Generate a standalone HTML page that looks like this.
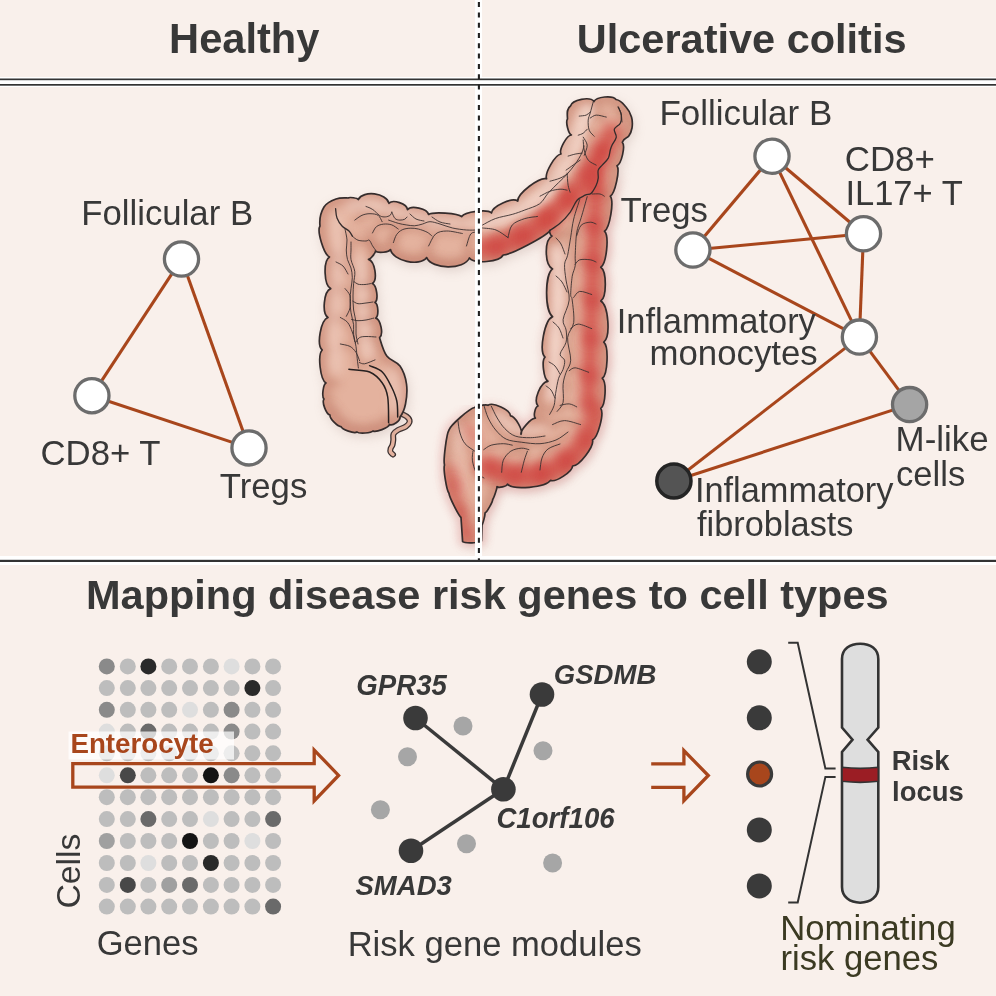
<!DOCTYPE html>
<html><head><meta charset="utf-8"><style>
html,body{margin:0;padding:0;background:#f9f0eb;}
svg{display:block;will-change:transform;}
text{font-family:"Liberation Sans",sans-serif;}
</style></head><body>
<svg width="996" height="996" viewBox="0 0 996 996">
<rect width="996" height="996" fill="#f9f0eb"/>
<rect x="0" y="77" width="996" height="10" fill="#fff"/>
<rect x="0" y="556" width="996" height="9" fill="#fff"/>
<text x="169.08" y="52.6" font-size="41.64" font-weight="bold" font-style="normal" fill="#383838" text-anchor="start" >Healthy</text>
<text x="576.81" y="52.6" font-size="41.49" font-weight="bold" font-style="normal" fill="#383838" text-anchor="start" >Ulcerative colitis</text>
<text x="85.99" y="608.8" font-size="41.5" font-weight="bold" font-style="normal" fill="#383838" text-anchor="start" >Mapping disease risk genes to cell types</text>

<defs>
 <clipPath id="cc"><path d="M400.0,417.0 C400.7,420.6 392.7,426.3 389.5,424.5 C388.5,427.8 376.0,432.7 373.0,431.0 C371.2,433.1 359.0,433.9 357.0,432.0 C354.2,433.9 342.1,429.7 341.0,426.5 C337.8,427.0 329.4,418.2 330.0,415.0 C326.2,414.3 321.6,402.1 324.0,399.0 C321.6,396.7 323.1,384.6 326.0,383.0 C320.2,379.7 317.4,354.6 322.2,350.0 C316.3,344.9 320.7,320.2 328.0,317.5 C321.7,313.4 323.7,291.4 330.7,288.6 C323.9,285.1 323.0,261.0 329.5,257.0 C323.9,254.6 316.7,231.1 320.0,226.0 C319.1,217.7 321.3,211.5 324.0,207.0 C326.7,202.5 332.0,200.5 336.0,199.0 C340.0,197.5 344.3,197.9 348.0,198.0 C349.4,196.9 357.3,198.0 358.3,199.5 C363.2,190.0 386.5,192.9 389.0,203.3 C392.9,199.0 407.0,203.8 407.5,209.6 C411.2,205.0 427.3,208.7 428.6,214.5 C432.8,211.4 457.9,213.0 461.7,216.6 C464.7,211.7 487.4,208.9 491.5,213.0 C492.2,206.1 512.2,197.0 517.8,201.0 C517.5,193.5 539.4,176.6 546.6,178.8 C544.3,173.5 555.2,154.6 561.0,154.0 C558.7,149.8 566.6,135.4 571.4,135.0 C568.3,133.7 565.4,121.6 567.5,119.0 C567.4,114.2 566.1,108.9 570.5,106.0 C572.2,99.6 590.1,96.1 594.0,101.5 C596.2,96.6 612.9,95.1 616.0,99.5 C621.3,100.4 623.4,104.1 626.0,107.0 C628.6,109.9 630.5,113.5 631.5,117.0 C632.5,120.5 632.5,124.8 632.0,128.0 C631.5,131.2 630.4,133.6 628.8,136.0 C627.2,138.4 624.3,137.2 622.3,142.2 C625.6,145.9 621.5,163.8 617.0,165.7 C620.1,170.2 615.0,193.4 610.3,196.2 C614.2,201.2 609.8,227.8 604.5,231.2 C609.4,236.1 606.5,263.5 600.8,267.3 C606.8,271.3 606.8,297.0 600.8,301.0 C608.5,305.4 610.8,336.7 603.8,342.2 C608.9,346.8 607.8,374.2 602.3,378.3 C606.8,382.1 605.6,405.0 600.8,408.4 C604.3,413.4 598.0,437.4 592.5,440.0 C594.3,446.4 579.2,466.1 572.6,466.0 C572.5,471.6 555.7,482.6 550.5,480.4 C545.9,487.5 513.2,490.4 507.5,484.2 C506.7,486.4 498.7,488.3 497.0,486.6 C497.1,488.3 493.8,498.1 492.7,499.4 C492.9,501.7 487.1,512.0 485.0,513.0 C485.3,514.6 483.0,523.7 482.0,525.0 C481.9,526.9 481.6,539.1 481.5,541.0 C479.3,543.1 464.9,543.5 462.6,541.6 C462.4,538.7 461.2,520.4 461.0,517.5 C458.4,515.2 449.2,496.9 449.0,493.4 C446.5,490.3 443.1,468.7 444.5,465.0 C443.1,460.5 446.5,433.9 449.0,430.0 C450.3,425.3 469.8,408.2 474.6,407.5 C476.0,405.9 486.2,404.2 488.0,405.3 C493.0,401.7 510.1,409.7 510.5,415.8 C515.2,416.0 523.2,430.1 521.0,434.3 C520.2,430.1 531.2,417.9 535.4,418.2 C533.1,416.2 535.1,406.9 538.0,406.0 C533.0,400.5 540.6,381.8 548.0,381.3 C543.7,378.9 541.4,360.6 545.0,357.2 C538.7,351.0 544.5,320.1 552.6,316.6 C544.6,310.9 544.6,274.6 552.6,268.9 C544.5,265.1 544.1,240.1 552.0,236.0 C550.5,235.8 549.0,231.5 550.0,230.4 C545.9,236.3 510.4,255.0 503.2,255.0 C499.7,262.0 474.0,264.3 469.4,258.0 C464.2,270.0 431.7,269.6 426.7,257.6 C420.0,267.0 392.5,260.9 390.5,249.5 C389.0,252.3 377.6,253.5 375.5,251.0 C375.7,252.9 370.4,259.2 368.5,259.4 C374.9,261.3 377.9,279.6 372.4,283.5 C376.7,285.2 378.7,299.6 375.0,302.4 C378.4,304.1 378.9,316.1 375.7,318.1 C380.7,319.5 383.7,334.4 379.6,337.7 C381.5,344.0 383.4,351.3 386.8,356.0 C390.2,360.7 396.7,361.3 400.0,366.0 C403.3,370.7 405.6,377.7 406.5,384.0 C407.4,390.3 406.6,398.5 405.5,404.0 C404.4,409.5 402.7,413.6 400.0,417.0Z"/></clipPath>
 <filter id="b12" filterUnits="userSpaceOnUse" x="0" y="0" width="996" height="996"><feGaussianBlur stdDeviation="12"/></filter>
 <mask id="glowm" maskUnits="userSpaceOnUse" x="0" y="0" width="996" height="996"><g filter="url(#b12)"><rect x="545" y="185" width="110" height="380" fill="#fff"/><rect x="425" y="410" width="130" height="150" fill="#fff"/></g><rect x="0" y="0" width="478" height="405" fill="#000"/></mask>
 <clipPath id="ucx"><rect x="478" y="0" width="520" height="560"/><rect x="430" y="398" width="60" height="160"/></clipPath>
 <filter id="b2" filterUnits="userSpaceOnUse" x="0" y="0" width="996" height="996"><feGaussianBlur stdDeviation="2"/></filter>
 <filter id="b3" filterUnits="userSpaceOnUse" x="0" y="0" width="996" height="996"><feGaussianBlur stdDeviation="3"/></filter>
 <filter id="b4" filterUnits="userSpaceOnUse" x="0" y="0" width="996" height="996"><feGaussianBlur stdDeviation="4"/></filter>
 <filter id="b6" filterUnits="userSpaceOnUse" x="0" y="0" width="996" height="996"><feGaussianBlur stdDeviation="6"/></filter>
 <filter id="b8" filterUnits="userSpaceOnUse" x="0" y="0" width="996" height="996"><feGaussianBlur stdDeviation="8"/></filter>
</defs>
<path d="M399.0,414.0 C399.7,414.1 401.4,413.8 403.0,414.5 C404.6,415.2 407.2,416.7 408.3,418.0 C409.4,419.3 409.9,420.9 409.5,422.3 C409.1,423.7 407.8,425.2 405.9,426.5 C404.0,427.8 400.1,428.8 398.0,430.0 C395.9,431.2 394.3,432.3 393.5,434.0 C392.7,435.7 393.5,438.2 393.3,440.0 C393.1,441.8 392.9,443.6 392.5,445.0 C392.1,446.4 390.9,447.3 390.6,448.5 C390.3,449.7 390.1,451.0 390.5,452.0 C390.9,453.0 392.6,454.1 393.0,454.5" fill="none" stroke="#3a3030" stroke-width="6" stroke-linecap="round"/>
<path d="M399.0,414.0 C399.7,414.1 401.4,413.8 403.0,414.5 C404.6,415.2 407.2,416.7 408.3,418.0 C409.4,419.3 409.9,420.9 409.5,422.3 C409.1,423.7 407.8,425.2 405.9,426.5 C404.0,427.8 400.1,428.8 398.0,430.0 C395.9,431.2 394.3,432.3 393.5,434.0 C392.7,435.7 393.5,438.2 393.3,440.0 C393.1,441.8 392.9,443.6 392.5,445.0 C392.1,446.4 390.9,447.3 390.6,448.5 C390.3,449.7 390.1,451.0 390.5,452.0 C390.9,453.0 392.6,454.1 393.0,454.5" fill="none" stroke="#e4b29e" stroke-width="3.4" stroke-linecap="round"/>
<path d="M400.0,417.0 C400.7,420.6 392.7,426.3 389.5,424.5 C388.5,427.8 376.0,432.7 373.0,431.0 C371.2,433.1 359.0,433.9 357.0,432.0 C354.2,433.9 342.1,429.7 341.0,426.5 C337.8,427.0 329.4,418.2 330.0,415.0 C326.2,414.3 321.6,402.1 324.0,399.0 C321.6,396.7 323.1,384.6 326.0,383.0 C320.2,379.7 317.4,354.6 322.2,350.0 C316.3,344.9 320.7,320.2 328.0,317.5 C321.7,313.4 323.7,291.4 330.7,288.6 C323.9,285.1 323.0,261.0 329.5,257.0 C323.9,254.6 316.7,231.1 320.0,226.0 C319.1,217.7 321.3,211.5 324.0,207.0 C326.7,202.5 332.0,200.5 336.0,199.0 C340.0,197.5 344.3,197.9 348.0,198.0 C349.4,196.9 357.3,198.0 358.3,199.5 C363.2,190.0 386.5,192.9 389.0,203.3 C392.9,199.0 407.0,203.8 407.5,209.6 C411.2,205.0 427.3,208.7 428.6,214.5 C432.8,211.4 457.9,213.0 461.7,216.6 C464.7,211.7 487.4,208.9 491.5,213.0 C492.2,206.1 512.2,197.0 517.8,201.0 C517.5,193.5 539.4,176.6 546.6,178.8 C544.3,173.5 555.2,154.6 561.0,154.0 C558.7,149.8 566.6,135.4 571.4,135.0 C568.3,133.7 565.4,121.6 567.5,119.0 C567.4,114.2 566.1,108.9 570.5,106.0 C572.2,99.6 590.1,96.1 594.0,101.5 C596.2,96.6 612.9,95.1 616.0,99.5 C621.3,100.4 623.4,104.1 626.0,107.0 C628.6,109.9 630.5,113.5 631.5,117.0 C632.5,120.5 632.5,124.8 632.0,128.0 C631.5,131.2 630.4,133.6 628.8,136.0 C627.2,138.4 624.3,137.2 622.3,142.2 C625.6,145.9 621.5,163.8 617.0,165.7 C620.1,170.2 615.0,193.4 610.3,196.2 C614.2,201.2 609.8,227.8 604.5,231.2 C609.4,236.1 606.5,263.5 600.8,267.3 C606.8,271.3 606.8,297.0 600.8,301.0 C608.5,305.4 610.8,336.7 603.8,342.2 C608.9,346.8 607.8,374.2 602.3,378.3 C606.8,382.1 605.6,405.0 600.8,408.4 C604.3,413.4 598.0,437.4 592.5,440.0 C594.3,446.4 579.2,466.1 572.6,466.0 C572.5,471.6 555.7,482.6 550.5,480.4 C545.9,487.5 513.2,490.4 507.5,484.2 C506.7,486.4 498.7,488.3 497.0,486.6 C497.1,488.3 493.8,498.1 492.7,499.4 C492.9,501.7 487.1,512.0 485.0,513.0 C485.3,514.6 483.0,523.7 482.0,525.0 C481.9,526.9 481.6,539.1 481.5,541.0 C479.3,543.1 464.9,543.5 462.6,541.6 C462.4,538.7 461.2,520.4 461.0,517.5 C458.4,515.2 449.2,496.9 449.0,493.4 C446.5,490.3 443.1,468.7 444.5,465.0 C443.1,460.5 446.5,433.9 449.0,430.0 C450.3,425.3 469.8,408.2 474.6,407.5 C476.0,405.9 486.2,404.2 488.0,405.3 C493.0,401.7 510.1,409.7 510.5,415.8 C515.2,416.0 523.2,430.1 521.0,434.3 C520.2,430.1 531.2,417.9 535.4,418.2 C533.1,416.2 535.1,406.9 538.0,406.0 C533.0,400.5 540.6,381.8 548.0,381.3 C543.7,378.9 541.4,360.6 545.0,357.2 C538.7,351.0 544.5,320.1 552.6,316.6 C544.6,310.9 544.6,274.6 552.6,268.9 C544.5,265.1 544.1,240.1 552.0,236.0 C550.5,235.8 549.0,231.5 550.0,230.4 C545.9,236.3 510.4,255.0 503.2,255.0 C499.7,262.0 474.0,264.3 469.4,258.0 C464.2,270.0 431.7,269.6 426.7,257.6 C420.0,267.0 392.5,260.9 390.5,249.5 C389.0,252.3 377.6,253.5 375.5,251.0 C375.7,252.9 370.4,259.2 368.5,259.4 C374.9,261.3 377.9,279.6 372.4,283.5 C376.7,285.2 378.7,299.6 375.0,302.4 C378.4,304.1 378.9,316.1 375.7,318.1 C380.7,319.5 383.7,334.4 379.6,337.7 C381.5,344.0 383.4,351.3 386.8,356.0 C390.2,360.7 396.7,361.3 400.0,366.0 C403.3,370.7 405.6,377.7 406.5,384.0 C407.4,390.3 406.6,398.5 405.5,404.0 C404.4,409.5 402.7,413.6 400.0,417.0Z" fill="#a08078" opacity="0.28" transform="translate(2,4)" filter="url(#b6)"/>
<g mask="url(#glowm)"><path d="M400.0,417.0 C400.7,420.6 392.7,426.3 389.5,424.5 C388.5,427.8 376.0,432.7 373.0,431.0 C371.2,433.1 359.0,433.9 357.0,432.0 C354.2,433.9 342.1,429.7 341.0,426.5 C337.8,427.0 329.4,418.2 330.0,415.0 C326.2,414.3 321.6,402.1 324.0,399.0 C321.6,396.7 323.1,384.6 326.0,383.0 C320.2,379.7 317.4,354.6 322.2,350.0 C316.3,344.9 320.7,320.2 328.0,317.5 C321.7,313.4 323.7,291.4 330.7,288.6 C323.9,285.1 323.0,261.0 329.5,257.0 C323.9,254.6 316.7,231.1 320.0,226.0 C319.1,217.7 321.3,211.5 324.0,207.0 C326.7,202.5 332.0,200.5 336.0,199.0 C340.0,197.5 344.3,197.9 348.0,198.0 C349.4,196.9 357.3,198.0 358.3,199.5 C363.2,190.0 386.5,192.9 389.0,203.3 C392.9,199.0 407.0,203.8 407.5,209.6 C411.2,205.0 427.3,208.7 428.6,214.5 C432.8,211.4 457.9,213.0 461.7,216.6 C464.7,211.7 487.4,208.9 491.5,213.0 C492.2,206.1 512.2,197.0 517.8,201.0 C517.5,193.5 539.4,176.6 546.6,178.8 C544.3,173.5 555.2,154.6 561.0,154.0 C558.7,149.8 566.6,135.4 571.4,135.0 C568.3,133.7 565.4,121.6 567.5,119.0 C567.4,114.2 566.1,108.9 570.5,106.0 C572.2,99.6 590.1,96.1 594.0,101.5 C596.2,96.6 612.9,95.1 616.0,99.5 C621.3,100.4 623.4,104.1 626.0,107.0 C628.6,109.9 630.5,113.5 631.5,117.0 C632.5,120.5 632.5,124.8 632.0,128.0 C631.5,131.2 630.4,133.6 628.8,136.0 C627.2,138.4 624.3,137.2 622.3,142.2 C625.6,145.9 621.5,163.8 617.0,165.7 C620.1,170.2 615.0,193.4 610.3,196.2 C614.2,201.2 609.8,227.8 604.5,231.2 C609.4,236.1 606.5,263.5 600.8,267.3 C606.8,271.3 606.8,297.0 600.8,301.0 C608.5,305.4 610.8,336.7 603.8,342.2 C608.9,346.8 607.8,374.2 602.3,378.3 C606.8,382.1 605.6,405.0 600.8,408.4 C604.3,413.4 598.0,437.4 592.5,440.0 C594.3,446.4 579.2,466.1 572.6,466.0 C572.5,471.6 555.7,482.6 550.5,480.4 C545.9,487.5 513.2,490.4 507.5,484.2 C506.7,486.4 498.7,488.3 497.0,486.6 C497.1,488.3 493.8,498.1 492.7,499.4 C492.9,501.7 487.1,512.0 485.0,513.0 C485.3,514.6 483.0,523.7 482.0,525.0 C481.9,526.9 481.6,539.1 481.5,541.0 C479.3,543.1 464.9,543.5 462.6,541.6 C462.4,538.7 461.2,520.4 461.0,517.5 C458.4,515.2 449.2,496.9 449.0,493.4 C446.5,490.3 443.1,468.7 444.5,465.0 C443.1,460.5 446.5,433.9 449.0,430.0 C450.3,425.3 469.8,408.2 474.6,407.5 C476.0,405.9 486.2,404.2 488.0,405.3 C493.0,401.7 510.1,409.7 510.5,415.8 C515.2,416.0 523.2,430.1 521.0,434.3 C520.2,430.1 531.2,417.9 535.4,418.2 C533.1,416.2 535.1,406.9 538.0,406.0 C533.0,400.5 540.6,381.8 548.0,381.3 C543.7,378.9 541.4,360.6 545.0,357.2 C538.7,351.0 544.5,320.1 552.6,316.6 C544.6,310.9 544.6,274.6 552.6,268.9 C544.5,265.1 544.1,240.1 552.0,236.0 C550.5,235.8 549.0,231.5 550.0,230.4 C545.9,236.3 510.4,255.0 503.2,255.0 C499.7,262.0 474.0,264.3 469.4,258.0 C464.2,270.0 431.7,269.6 426.7,257.6 C420.0,267.0 392.5,260.9 390.5,249.5 C389.0,252.3 377.6,253.5 375.5,251.0 C375.7,252.9 370.4,259.2 368.5,259.4 C374.9,261.3 377.9,279.6 372.4,283.5 C376.7,285.2 378.7,299.6 375.0,302.4 C378.4,304.1 378.9,316.1 375.7,318.1 C380.7,319.5 383.7,334.4 379.6,337.7 C381.5,344.0 383.4,351.3 386.8,356.0 C390.2,360.7 396.7,361.3 400.0,366.0 C403.3,370.7 405.6,377.7 406.5,384.0 C407.4,390.3 406.6,398.5 405.5,404.0 C404.4,409.5 402.7,413.6 400.0,417.0Z" fill="none" stroke="#e07878" stroke-width="9" opacity="0.32" filter="url(#b4)"/></g>
<path d="M400.0,417.0 C400.7,420.6 392.7,426.3 389.5,424.5 C388.5,427.8 376.0,432.7 373.0,431.0 C371.2,433.1 359.0,433.9 357.0,432.0 C354.2,433.9 342.1,429.7 341.0,426.5 C337.8,427.0 329.4,418.2 330.0,415.0 C326.2,414.3 321.6,402.1 324.0,399.0 C321.6,396.7 323.1,384.6 326.0,383.0 C320.2,379.7 317.4,354.6 322.2,350.0 C316.3,344.9 320.7,320.2 328.0,317.5 C321.7,313.4 323.7,291.4 330.7,288.6 C323.9,285.1 323.0,261.0 329.5,257.0 C323.9,254.6 316.7,231.1 320.0,226.0 C319.1,217.7 321.3,211.5 324.0,207.0 C326.7,202.5 332.0,200.5 336.0,199.0 C340.0,197.5 344.3,197.9 348.0,198.0 C349.4,196.9 357.3,198.0 358.3,199.5 C363.2,190.0 386.5,192.9 389.0,203.3 C392.9,199.0 407.0,203.8 407.5,209.6 C411.2,205.0 427.3,208.7 428.6,214.5 C432.8,211.4 457.9,213.0 461.7,216.6 C464.7,211.7 487.4,208.9 491.5,213.0 C492.2,206.1 512.2,197.0 517.8,201.0 C517.5,193.5 539.4,176.6 546.6,178.8 C544.3,173.5 555.2,154.6 561.0,154.0 C558.7,149.8 566.6,135.4 571.4,135.0 C568.3,133.7 565.4,121.6 567.5,119.0 C567.4,114.2 566.1,108.9 570.5,106.0 C572.2,99.6 590.1,96.1 594.0,101.5 C596.2,96.6 612.9,95.1 616.0,99.5 C621.3,100.4 623.4,104.1 626.0,107.0 C628.6,109.9 630.5,113.5 631.5,117.0 C632.5,120.5 632.5,124.8 632.0,128.0 C631.5,131.2 630.4,133.6 628.8,136.0 C627.2,138.4 624.3,137.2 622.3,142.2 C625.6,145.9 621.5,163.8 617.0,165.7 C620.1,170.2 615.0,193.4 610.3,196.2 C614.2,201.2 609.8,227.8 604.5,231.2 C609.4,236.1 606.5,263.5 600.8,267.3 C606.8,271.3 606.8,297.0 600.8,301.0 C608.5,305.4 610.8,336.7 603.8,342.2 C608.9,346.8 607.8,374.2 602.3,378.3 C606.8,382.1 605.6,405.0 600.8,408.4 C604.3,413.4 598.0,437.4 592.5,440.0 C594.3,446.4 579.2,466.1 572.6,466.0 C572.5,471.6 555.7,482.6 550.5,480.4 C545.9,487.5 513.2,490.4 507.5,484.2 C506.7,486.4 498.7,488.3 497.0,486.6 C497.1,488.3 493.8,498.1 492.7,499.4 C492.9,501.7 487.1,512.0 485.0,513.0 C485.3,514.6 483.0,523.7 482.0,525.0 C481.9,526.9 481.6,539.1 481.5,541.0 C479.3,543.1 464.9,543.5 462.6,541.6 C462.4,538.7 461.2,520.4 461.0,517.5 C458.4,515.2 449.2,496.9 449.0,493.4 C446.5,490.3 443.1,468.7 444.5,465.0 C443.1,460.5 446.5,433.9 449.0,430.0 C450.3,425.3 469.8,408.2 474.6,407.5 C476.0,405.9 486.2,404.2 488.0,405.3 C493.0,401.7 510.1,409.7 510.5,415.8 C515.2,416.0 523.2,430.1 521.0,434.3 C520.2,430.1 531.2,417.9 535.4,418.2 C533.1,416.2 535.1,406.9 538.0,406.0 C533.0,400.5 540.6,381.8 548.0,381.3 C543.7,378.9 541.4,360.6 545.0,357.2 C538.7,351.0 544.5,320.1 552.6,316.6 C544.6,310.9 544.6,274.6 552.6,268.9 C544.5,265.1 544.1,240.1 552.0,236.0 C550.5,235.8 549.0,231.5 550.0,230.4 C545.9,236.3 510.4,255.0 503.2,255.0 C499.7,262.0 474.0,264.3 469.4,258.0 C464.2,270.0 431.7,269.6 426.7,257.6 C420.0,267.0 392.5,260.9 390.5,249.5 C389.0,252.3 377.6,253.5 375.5,251.0 C375.7,252.9 370.4,259.2 368.5,259.4 C374.9,261.3 377.9,279.6 372.4,283.5 C376.7,285.2 378.7,299.6 375.0,302.4 C378.4,304.1 378.9,316.1 375.7,318.1 C380.7,319.5 383.7,334.4 379.6,337.7 C381.5,344.0 383.4,351.3 386.8,356.0 C390.2,360.7 396.7,361.3 400.0,366.0 C403.3,370.7 405.6,377.7 406.5,384.0 C407.4,390.3 406.6,398.5 405.5,404.0 C404.4,409.5 402.7,413.6 400.0,417.0Z" fill="#e4b29e"/>
<g clip-path="url(#cc)">
 <path d="M400.0,417.0 C400.7,420.6 392.7,426.3 389.5,424.5 C388.5,427.8 376.0,432.7 373.0,431.0 C371.2,433.1 359.0,433.9 357.0,432.0 C354.2,433.9 342.1,429.7 341.0,426.5 C337.8,427.0 329.4,418.2 330.0,415.0 C326.2,414.3 321.6,402.1 324.0,399.0 C321.6,396.7 323.1,384.6 326.0,383.0 C320.2,379.7 317.4,354.6 322.2,350.0 C316.3,344.9 320.7,320.2 328.0,317.5 C321.7,313.4 323.7,291.4 330.7,288.6 C323.9,285.1 323.0,261.0 329.5,257.0 C323.9,254.6 316.7,231.1 320.0,226.0 C319.1,217.7 321.3,211.5 324.0,207.0 C326.7,202.5 332.0,200.5 336.0,199.0 C340.0,197.5 344.3,197.9 348.0,198.0 C349.4,196.9 357.3,198.0 358.3,199.5 C363.2,190.0 386.5,192.9 389.0,203.3 C392.9,199.0 407.0,203.8 407.5,209.6 C411.2,205.0 427.3,208.7 428.6,214.5 C432.8,211.4 457.9,213.0 461.7,216.6 C464.7,211.7 487.4,208.9 491.5,213.0 C492.2,206.1 512.2,197.0 517.8,201.0 C517.5,193.5 539.4,176.6 546.6,178.8 C544.3,173.5 555.2,154.6 561.0,154.0 C558.7,149.8 566.6,135.4 571.4,135.0 C568.3,133.7 565.4,121.6 567.5,119.0 C567.4,114.2 566.1,108.9 570.5,106.0 C572.2,99.6 590.1,96.1 594.0,101.5 C596.2,96.6 612.9,95.1 616.0,99.5 C621.3,100.4 623.4,104.1 626.0,107.0 C628.6,109.9 630.5,113.5 631.5,117.0 C632.5,120.5 632.5,124.8 632.0,128.0 C631.5,131.2 630.4,133.6 628.8,136.0 C627.2,138.4 624.3,137.2 622.3,142.2 C625.6,145.9 621.5,163.8 617.0,165.7 C620.1,170.2 615.0,193.4 610.3,196.2 C614.2,201.2 609.8,227.8 604.5,231.2 C609.4,236.1 606.5,263.5 600.8,267.3 C606.8,271.3 606.8,297.0 600.8,301.0 C608.5,305.4 610.8,336.7 603.8,342.2 C608.9,346.8 607.8,374.2 602.3,378.3 C606.8,382.1 605.6,405.0 600.8,408.4 C604.3,413.4 598.0,437.4 592.5,440.0 C594.3,446.4 579.2,466.1 572.6,466.0 C572.5,471.6 555.7,482.6 550.5,480.4 C545.9,487.5 513.2,490.4 507.5,484.2 C506.7,486.4 498.7,488.3 497.0,486.6 C497.1,488.3 493.8,498.1 492.7,499.4 C492.9,501.7 487.1,512.0 485.0,513.0 C485.3,514.6 483.0,523.7 482.0,525.0 C481.9,526.9 481.6,539.1 481.5,541.0 C479.3,543.1 464.9,543.5 462.6,541.6 C462.4,538.7 461.2,520.4 461.0,517.5 C458.4,515.2 449.2,496.9 449.0,493.4 C446.5,490.3 443.1,468.7 444.5,465.0 C443.1,460.5 446.5,433.9 449.0,430.0 C450.3,425.3 469.8,408.2 474.6,407.5 C476.0,405.9 486.2,404.2 488.0,405.3 C493.0,401.7 510.1,409.7 510.5,415.8 C515.2,416.0 523.2,430.1 521.0,434.3 C520.2,430.1 531.2,417.9 535.4,418.2 C533.1,416.2 535.1,406.9 538.0,406.0 C533.0,400.5 540.6,381.8 548.0,381.3 C543.7,378.9 541.4,360.6 545.0,357.2 C538.7,351.0 544.5,320.1 552.6,316.6 C544.6,310.9 544.6,274.6 552.6,268.9 C544.5,265.1 544.1,240.1 552.0,236.0 C550.5,235.8 549.0,231.5 550.0,230.4 C545.9,236.3 510.4,255.0 503.2,255.0 C499.7,262.0 474.0,264.3 469.4,258.0 C464.2,270.0 431.7,269.6 426.7,257.6 C420.0,267.0 392.5,260.9 390.5,249.5 C389.0,252.3 377.6,253.5 375.5,251.0 C375.7,252.9 370.4,259.2 368.5,259.4 C374.9,261.3 377.9,279.6 372.4,283.5 C376.7,285.2 378.7,299.6 375.0,302.4 C378.4,304.1 378.9,316.1 375.7,318.1 C380.7,319.5 383.7,334.4 379.6,337.7 C381.5,344.0 383.4,351.3 386.8,356.0 C390.2,360.7 396.7,361.3 400.0,366.0 C403.3,370.7 405.6,377.7 406.5,384.0 C407.4,390.3 406.6,398.5 405.5,404.0 C404.4,409.5 402.7,413.6 400.0,417.0Z" fill="none" stroke="#c4826e" stroke-width="16" opacity="0.55" filter="url(#b4)"/>
 <g fill="none" stroke="#c4826e" stroke-width="7" opacity="0.4" filter="url(#b3)" transform="translate(0,1)"><path d="M352.4,236.2 C353.3,236.9 355.7,239.4 358.0,240.2 C360.3,241.0 364.1,241.0 366.0,241.0 C367.9,241.0 368.2,239.4 369.3,240.2 C370.4,241.0 371.5,244.2 372.5,245.8 C373.5,247.4 375.0,249.3 375.5,250.0"/><path d="M354.8,220.1 C356.0,219.3 359.5,216.4 362.0,215.3 C364.5,214.2 367.3,213.7 370.0,213.7 C372.7,213.7 376.1,214.0 378.1,215.3 C380.1,216.6 381.4,220.6 382.1,221.7"/><path d="M372.5,233.0 C373.2,231.9 374.6,228.1 376.5,226.6 C378.4,225.1 381.1,224.4 383.7,224.1 C386.2,223.8 389.4,224.1 391.8,224.9 C394.2,225.7 397.1,228.3 398.2,229.0"/><path d="M393.4,242.6 C393.9,241.3 395.1,236.7 396.6,234.6 C398.1,232.5 399.9,230.9 402.2,229.8 C404.5,228.7 407.5,228.3 410.2,228.2 C412.9,228.1 415.5,228.3 418.3,229.0 C421.1,229.7 424.8,231.0 427.1,232.2 C429.4,233.4 431.2,235.4 432.0,236.0"/><path d="M366.0,206.5 C366.7,206.8 368.6,207.3 370.0,208.0 C371.4,208.7 373.2,209.8 374.1,210.5 C375.1,211.2 374.6,211.2 375.7,212.1 C376.8,213.0 378.9,215.3 380.5,216.1 C382.1,216.9 383.7,217.0 385.3,216.9 C386.9,216.8 389.1,216.1 390.2,215.3 C391.3,214.5 391.5,212.6 391.8,212.1"/><path d="M391.8,212.1 C392.3,213.2 393.7,217.2 395.0,218.5 C396.3,219.8 398.2,220.0 399.8,220.1 C401.4,220.2 403.4,219.8 404.6,219.3 C405.8,218.8 406.6,217.4 407.0,217.0"/><path d="M388.6,220.1 C390.2,220.6 395.3,222.5 398.2,223.3 C401.1,224.1 403.5,224.5 406.2,224.9 C408.9,225.3 411.6,225.9 414.3,225.8 C417.0,225.7 419.7,224.8 422.3,224.1 C424.9,223.4 427.1,221.7 430.0,221.7 C432.9,221.7 436.2,222.9 440.0,224.0 C443.8,225.1 448.1,227.0 452.5,228.0 C456.9,229.0 462.4,229.7 466.5,230.0 C470.6,230.3 475.2,230.0 477.0,230.0"/><path d="M410.0,214.0 C411.0,214.8 413.7,217.8 416.0,219.0 C418.3,220.2 422.7,220.7 424.0,221.0"/><path d="M432.0,217.0 C433.3,217.8 437.0,220.8 440.0,222.0 C443.0,223.2 448.3,223.7 450.0,224.0"/><path d="M428.6,246.0 C429.8,244.0 432.6,236.5 435.6,234.0 C438.6,231.5 442.4,231.1 446.8,231.0 C451.2,230.9 459.7,233.1 462.3,233.5"/><path d="M466.5,246.0 C467.2,244.0 468.9,236.3 470.7,234.0 C472.4,231.7 475.9,232.3 477.0,232.0"/><path d="M345.0,229.0 C345.3,230.8 346.8,236.5 347.0,240.0 C347.2,243.5 346.2,246.7 346.3,250.0 C346.4,253.3 346.7,256.6 347.5,259.6 C348.3,262.6 350.2,265.0 351.0,268.0 C351.8,271.0 352.3,274.3 352.3,277.7 C352.3,281.1 351.4,284.8 351.0,288.6 C350.6,292.4 350.0,296.6 350.0,300.6 C350.0,304.6 350.4,308.7 351.0,312.7 C351.6,316.7 353.2,321.1 353.6,324.7 C354.0,328.3 353.2,330.7 353.6,334.3 C354.0,337.9 355.4,342.4 356.0,346.4 C356.6,350.4 356.8,354.8 357.2,358.4 C357.6,362.0 358.2,366.4 358.4,368.0"/><path d="M351.0,242.0 C351.0,243.3 351.0,247.1 351.0,250.0 C351.0,252.9 350.4,256.0 351.0,259.6 C351.6,263.2 354.4,267.7 354.8,271.7 C355.2,275.7 353.9,279.6 353.6,283.7 C353.3,287.8 353.0,291.6 353.0,296.0 C353.0,300.4 353.1,305.7 353.6,310.0 C354.1,314.3 355.6,318.0 356.0,322.0 C356.4,326.0 355.7,330.3 356.0,334.0 C356.3,337.7 357.7,342.3 358.0,344.0"/><path d="M354.1,281.6 C354.8,282.0 356.2,283.7 358.0,284.2 C359.8,284.7 362.8,284.6 365.0,284.5 C367.2,284.4 370.0,283.7 371.0,283.5"/><path d="M352.8,301.1 C353.7,301.5 355.8,303.4 358.0,303.7 C360.2,304.0 363.5,303.3 366.0,303.0 C368.5,302.7 371.8,302.2 373.0,302.0"/><path d="M351.5,319.4 C352.6,319.6 355.6,320.6 358.0,320.7 C360.4,320.8 363.4,320.4 366.0,320.0 C368.6,319.6 372.4,318.4 373.7,318.1"/><path d="M355.4,342.9 C356.1,342.0 357.6,338.8 359.4,337.7 C361.2,336.6 363.2,336.6 366.0,336.5 C368.8,336.4 374.3,336.9 376.0,337.0"/><path d="M359.4,362.5 C360.3,362.7 362.0,364.2 364.6,363.8 C367.2,363.4 373.3,360.5 375.0,359.9"/><path d="M345.0,288.6 C345.8,289.8 349.2,292.6 350.0,295.8 C350.8,299.0 350.6,304.4 350.0,307.8 C349.4,311.2 346.9,314.9 346.3,316.3"/><path d="M340.3,317.5 C341.5,318.3 345.5,319.9 347.5,322.3 C349.5,324.7 351.1,328.8 352.3,332.0 C353.5,335.2 354.4,340.0 354.8,341.6"/><path d="M340.3,344.0 C341.9,344.4 347.4,345.0 350.0,346.4 C352.6,347.8 354.4,350.0 356.0,352.4 C357.6,354.8 359.0,359.4 359.6,360.8"/><path d="M336.0,262.0 C337.2,262.7 341.0,264.0 343.0,266.0 C345.0,268.0 347.2,272.7 348.0,274.0"/><path d="M482.6,225.0 C484.7,223.9 490.4,220.4 495.3,218.6 C500.2,216.8 507.3,215.8 512.2,214.4 C517.1,213.0 520.2,211.8 524.8,210.0 C529.4,208.2 535.7,206.6 539.6,203.8 C543.5,201.0 544.9,196.8 548.0,193.3 C551.1,189.8 555.3,185.9 558.5,182.7 C561.7,179.5 564.2,177.5 567.0,174.3 C569.8,171.2 572.9,167.3 575.4,163.8 C577.9,160.3 580.3,156.2 581.7,153.2 C583.1,150.2 583.6,147.2 584.0,146.0"/><path d="M482.6,228.0 C484.8,228.3 491.8,228.4 496.0,230.0 C500.2,231.6 506.0,236.3 508.0,237.6"/><path d="M508.0,237.6 C508.7,235.5 509.4,228.2 512.2,225.0 C515.0,221.8 520.6,220.0 524.8,218.6 C529.0,217.2 535.4,216.8 537.5,216.5"/><path d="M540.0,196.2 C541.7,195.4 546.7,192.4 550.0,191.2 C553.3,190.0 557.1,189.4 560.0,189.2 C562.9,189.0 565.9,190.0 567.1,190.2"/><path d="M550.0,181.2 C551.7,180.7 557.1,179.4 560.0,178.2 C562.9,177.0 565.9,174.8 567.1,174.1"/><path d="M567.1,173.1 C567.3,175.1 567.6,182.0 568.1,185.2 C568.6,188.4 569.8,191.0 570.1,192.2"/><path d="M566.1,170.1 C567.3,169.3 570.8,166.8 573.1,165.1 C575.5,163.4 579.0,160.9 580.2,160.1"/><path d="M568.1,156.1 C569.3,155.8 572.8,154.6 575.1,154.1 C577.5,153.6 581.0,153.3 582.2,153.1"/><path d="M583.2,140.0 C583.4,141.7 583.4,146.7 584.2,150.0 C585.0,153.3 586.2,157.6 588.2,160.1 C590.2,162.6 594.9,164.3 596.2,165.1"/><path d="M593.2,102.0 C592.7,103.8 591.0,110.1 590.2,113.1 C589.4,116.1 588.4,117.2 588.2,120.1 C588.0,122.9 588.2,127.5 589.2,130.2 C590.2,132.9 593.4,135.2 594.2,136.2"/><path d="M579.2,116.1 C580.4,115.9 584.4,115.8 586.2,115.1 C588.0,114.4 589.5,112.6 590.2,112.1"/><path d="M590.2,118.1 C591.2,117.6 593.5,115.3 596.2,115.1 C598.9,114.9 604.6,116.8 606.3,117.1"/><path d="M578.2,135.2 C579.0,134.9 581.7,134.2 583.2,133.2 C584.7,132.2 586.5,129.9 587.2,129.2"/><path d="M583.2,137.2 C583.9,138.5 587.0,142.2 587.2,145.2 C587.4,148.2 584.7,153.6 584.2,155.3"/><path d="M618.0,107.0 C618.5,108.0 620.3,110.5 621.0,113.0 C621.7,115.5 621.8,120.5 622.0,122.0"/><path d="M579.7,199.6 C578.7,202.8 575.2,212.7 573.7,219.0 C572.2,225.3 571.7,231.1 570.7,237.2 C569.7,243.2 568.6,250.8 567.6,255.3 C566.6,259.8 564.9,260.2 564.6,264.3 C564.3,268.4 565.2,274.1 566.0,280.0 C566.8,285.9 569.7,293.4 569.2,300.0 C568.7,306.6 563.6,314.6 563.1,319.6 C562.6,324.6 565.6,326.2 566.1,330.0 C566.6,333.8 567.1,338.2 566.1,342.2 C565.1,346.2 560.4,351.2 560.1,354.2 C559.9,357.2 564.1,357.7 564.6,360.2 C565.1,362.7 564.1,366.3 563.1,369.3 C562.1,372.3 559.9,374.3 558.6,378.3 C557.4,382.3 556.4,388.9 555.6,393.4 C554.9,397.9 555.1,401.9 554.1,405.4 C553.1,408.9 550.4,413.0 549.6,414.5"/><path d="M587.2,196.6 C586.2,200.1 583.0,211.6 581.2,217.6 C579.5,223.6 577.7,226.4 576.7,232.7 C575.7,239.0 575.5,249.8 575.2,255.3 C575.0,260.8 575.7,262.3 575.2,265.8 C574.7,269.3 573.0,271.6 572.2,276.4 C571.5,281.2 570.7,290.6 570.7,294.5 C570.7,298.4 571.7,295.3 572.2,300.0 C572.7,304.7 574.5,316.3 573.7,322.6 C572.9,328.9 568.1,331.4 567.6,337.7 C567.1,344.0 571.0,354.4 570.7,360.2 C570.5,366.0 567.4,368.3 566.1,372.3 C564.8,376.3 563.6,379.3 563.1,384.3 C562.6,389.3 564.1,397.9 563.1,402.4 C562.1,406.9 558.1,409.9 557.1,411.4"/><path d="M592.0,194.0 C593.3,194.0 598.0,193.6 600.0,194.0 C602.0,194.4 603.6,195.8 604.3,196.2"/><path d="M576.7,235.7 C577.5,233.9 579.0,227.4 581.2,225.2 C583.5,222.9 587.7,222.4 590.2,222.2 C592.7,222.0 595.0,223.7 596.0,224.0"/><path d="M575.2,264.3 C576.0,263.6 577.2,260.6 579.7,259.8 C582.2,259.1 587.5,259.4 590.2,259.8 C592.9,260.2 595.0,261.6 596.0,262.0"/><path d="M573.7,297.5 C574.7,296.5 576.7,291.9 579.7,291.4 C582.7,290.9 589.7,294.0 591.7,294.5"/><path d="M570.7,328.6 C572.0,327.9 574.7,324.1 578.2,324.1 C581.7,324.1 589.5,327.9 591.7,328.6"/><path d="M569.2,370.8 C570.2,370.3 572.0,367.6 575.2,367.8 C578.5,368.1 586.5,371.6 588.7,372.3"/><path d="M560.1,405.4 C561.6,405.1 566.4,403.6 569.2,403.9 C572.0,404.1 575.5,406.4 576.7,406.9"/><path d="M556.0,238.0 C556.8,239.0 559.5,241.3 561.0,244.0 C562.5,246.7 564.3,252.3 565.0,254.0"/><path d="M556.0,276.0 C557.0,277.0 560.2,279.3 562.0,282.0 C563.8,284.7 566.2,290.3 567.0,292.0"/><path d="M553.0,322.0 C554.0,323.0 557.3,325.3 559.0,328.0 C560.7,330.7 562.3,336.3 563.0,338.0"/><path d="M549.0,362.0 C550.0,362.7 553.2,364.0 555.0,366.0 C556.8,368.0 559.2,372.7 560.0,374.0"/><path d="M546.0,386.0 C546.8,386.7 549.5,388.0 551.0,390.0 C552.5,392.0 554.3,396.7 555.0,398.0"/><path d="M483.7,404.5 C484.4,406.8 486.2,413.8 488.2,418.0 C490.2,422.2 492.7,426.5 495.7,430.0 C498.7,433.5 502.0,437.2 506.3,439.2 C510.6,441.2 515.7,441.4 521.3,442.2 C526.9,442.9 534.2,444.1 540.0,443.7 C545.8,443.3 551.3,441.9 556.0,440.0 C560.7,438.1 566.0,433.3 568.0,432.0"/><path d="M491.2,406.0 C492.2,408.0 494.9,414.2 497.2,418.0 C499.5,421.8 501.8,425.6 504.8,428.6 C507.8,431.6 511.0,434.6 515.3,436.1 C519.6,437.6 525.4,437.7 530.4,437.7 C535.4,437.7 542.6,436.3 545.0,436.0"/><path d="M483.7,449.7 C484.9,448.9 487.9,446.2 491.2,445.2 C494.5,444.2 499.8,443.7 503.3,443.7 C506.8,443.7 510.8,444.9 512.3,445.2"/><path d="M501.7,472.3 C502.0,470.3 501.8,463.7 503.3,460.2 C504.8,456.7 507.8,453.2 510.8,451.2 C513.8,449.2 518.3,448.4 521.3,448.2 C524.3,447.9 527.6,449.4 528.9,449.7"/><path d="M521.3,472.3 C521.8,470.3 523.3,463.7 524.3,460.2 C525.3,456.7 526.9,452.7 527.4,451.2"/><path d="M540.0,470.0 C540.3,468.0 540.7,461.5 542.0,458.0 C543.3,454.5 545.0,451.3 548.0,449.0 C551.0,446.7 558.0,444.8 560.0,444.0"/><path d="M552.5,424.6 C554.5,423.9 559.8,420.6 564.5,420.6 C569.2,420.6 577.9,423.9 580.6,424.6"/><path d="M458.0,421.0 C458.3,423.0 458.8,429.2 460.0,433.0 C461.2,436.8 462.6,440.7 465.0,443.7 C467.4,446.7 473.0,449.8 474.6,451.0"/><path d="M473.0,451.0 C472.9,452.5 471.9,456.6 472.4,460.2 C472.9,463.8 474.2,469.3 476.1,472.3 C478.0,475.3 482.7,477.1 484.0,478.0"/></g>
 <g fill="none" stroke="#c47f6c" stroke-linecap="round" filter="url(#b4)">
  <path d="M385.0,256.0 C388.8,257.0 400.5,261.0 408.0,262.0 C415.5,263.0 423.0,261.3 430.0,262.0 C437.0,262.7 443.3,265.8 450.0,266.0 C456.7,266.2 465.3,263.7 470.0,263.0 C474.7,262.3 476.7,262.2 478.0,262.0" stroke-width="9" opacity="0.45"/>
  <path d="M378.0,262.0 C378.3,266.7 379.3,280.3 380.0,290.0 C380.7,299.7 381.2,310.8 382.0,320.0 C382.8,329.2 384.5,340.8 385.0,345.0" stroke-width="7" opacity="0.35"/>
  <path d="M330.0,408.0 C332.5,410.8 339.2,421.2 345.0,425.0 C350.8,428.8 358.3,431.0 365.0,431.0 C371.7,431.0 381.7,426.0 385.0,425.0" stroke-width="9" opacity="0.3"/>
 </g>
 <g fill="none" stroke="#f6dcd1" stroke-linecap="round" filter="url(#b6)">
  <path d="M336.0,218.0 C336.3,223.3 338.0,238.0 338.0,250.0 C338.0,262.0 336.7,276.7 336.0,290.0 C335.3,303.3 334.0,316.7 334.0,330.0 C334.0,343.3 335.7,363.3 336.0,370.0" stroke-width="10" opacity="0.55"/>
  <path d="M360.0,258.0 C360.3,263.3 361.3,278.0 362.0,290.0 C362.7,302.0 363.0,319.0 364.0,330.0 C365.0,341.0 367.3,351.7 368.0,356.0" stroke-width="8" opacity="0.75"/>
  <path d="M350.0,206.0 C353.3,205.7 362.5,203.2 370.0,204.0 C377.5,204.8 386.7,208.7 395.0,211.0 C403.3,213.3 410.8,216.2 420.0,218.0 C429.2,219.8 440.3,221.3 450.0,222.0 C459.7,222.7 469.7,223.2 478.0,222.0 C486.3,220.8 492.2,218.2 500.0,215.0 C507.8,211.8 517.5,207.5 525.0,203.0 C532.5,198.5 539.2,194.3 545.0,188.0 C550.8,181.7 555.0,174.7 560.0,165.0 C565.0,155.3 570.8,139.2 575.0,130.0 C579.2,120.8 583.3,113.3 585.0,110.0" stroke-width="10" opacity="0.75"/>
  <path d="M392.0,372.0 C393.0,375.3 397.3,385.7 398.0,392.0 C398.7,398.3 396.3,407.0 396.0,410.0" stroke-width="10" opacity="0.6"/>
  <path d="M560.0,250.0 C559.7,258.3 558.7,283.3 558.0,300.0 C557.3,316.7 556.8,334.2 556.0,350.0 C555.2,365.8 553.5,387.5 553.0,395.0" stroke-width="12" opacity="0.7"/>
  <path d="M500.0,414.0 C502.0,416.3 507.0,425.0 512.0,428.0 C517.0,431.0 527.0,431.3 530.0,432.0" stroke-width="8" opacity="0.6"/>
  <path d="M455.0,430.0 C455.5,435.0 456.8,450.0 458.0,460.0 C459.2,470.0 461.3,485.0 462.0,490.0" stroke-width="6" opacity="0.4"/>
 </g>
 <g clip-path="url(#ucx)" fill="none" stroke="#d24c46" stroke-linecap="round" filter="url(#b6)">
  <path d="M480.0,249.0 C484.2,248.0 496.7,245.8 505.0,243.0 C513.3,240.2 522.2,236.8 530.0,232.0 C537.8,227.2 545.0,220.2 552.0,214.0 C559.0,207.8 565.7,202.0 572.0,195.0 C578.3,188.0 584.8,179.5 590.0,172.0 C595.2,164.5 599.3,156.7 603.0,150.0 C606.7,143.3 610.5,135.0 612.0,132.0" stroke-width="20" opacity="0.8"/>
  <path d="M600.0,150.0 C599.3,158.3 597.2,181.7 596.0,200.0 C594.8,218.3 593.8,238.3 593.0,260.0 C592.2,281.7 591.7,306.7 591.0,330.0 C590.3,353.3 589.3,388.3 589.0,400.0" stroke-width="16" opacity="0.85"/>
  <path d="M595.0,412.0 C593.3,416.7 590.0,431.7 585.0,440.0 C580.0,448.3 572.5,456.3 565.0,462.0 C557.5,467.7 549.2,471.8 540.0,474.0 C530.8,476.2 519.2,476.3 510.0,475.0 C500.8,473.7 489.2,467.5 485.0,466.0" stroke-width="20" opacity="0.8"/>
  <path d="M450.0,470.0 C451.3,475.8 455.0,493.3 458.0,505.0 C461.0,516.7 466.3,534.2 468.0,540.0" stroke-width="12" opacity="0.6"/>
  <path d="M468.0,428.0 C469.3,430.0 474.7,438.0 476.0,440.0" stroke-width="10" opacity="0.5"/>
 </g>
 <g clip-path="url(#ucx)" fill="#cf4440" filter="url(#b6)">
  <circle cx="496" cy="247" r="11" opacity="0.7"/><circle cx="522" cy="236" r="12" opacity="0.75"/><circle cx="547" cy="219" r="12" opacity="0.8"/><circle cx="569" cy="199" r="11" opacity="0.8"/><circle cx="589" cy="174" r="10" opacity="0.75"/><circle cx="603" cy="152" r="9" opacity="0.6"/><circle cx="595" cy="190" r="8" opacity="0.55"/><circle cx="593" cy="225" r="8" opacity="0.65"/><circle cx="592" cy="262" r="8" opacity="0.65"/><circle cx="592" cy="300" r="8" opacity="0.65"/><circle cx="590" cy="338" r="8" opacity="0.65"/><circle cx="589" cy="375" r="8" opacity="0.65"/><circle cx="588" cy="405" r="8" opacity="0.6"/><circle cx="586" cy="440" r="10" opacity="0.6"/><circle cx="566" cy="461" r="11" opacity="0.7"/><circle cx="541" cy="474" r="11" opacity="0.75"/><circle cx="515" cy="474" r="10" opacity="0.7"/><circle cx="492" cy="467" r="9" opacity="0.6"/><circle cx="454" cy="485" r="7" opacity="0.45"/><circle cx="460" cy="512" r="7" opacity="0.45"/><circle cx="467" cy="532" r="6" opacity="0.4"/>
 </g>
 <g fill="none" stroke="#f7e0d6" stroke-linecap="round" filter="url(#b4)" clip-path="url(#ucx)">
  <path d="M484.0,226.0 C486.7,225.2 494.0,223.3 500.0,221.0 C506.0,218.7 513.3,215.5 520.0,212.0 C526.7,208.5 534.0,204.7 540.0,200.0 C546.0,195.3 551.3,189.7 556.0,184.0 C560.7,178.3 564.3,172.3 568.0,166.0 C571.7,159.7 575.3,153.0 578.0,146.0 C580.7,139.0 582.0,130.3 584.0,124.0 C586.0,117.7 589.0,110.7 590.0,108.0" stroke-width="8" opacity="0.8"/>
  <path d="M555.0,250.0 C555.5,256.7 557.8,276.7 558.0,290.0 C558.2,303.3 556.7,316.7 556.0,330.0 C555.3,343.3 554.7,359.2 554.0,370.0 C553.3,380.8 552.3,390.8 552.0,395.0" stroke-width="8" opacity="0.6"/>
  <path d="M494.0,414.0 C496.3,415.7 502.8,421.3 508.0,424.0 C513.2,426.7 518.8,429.3 525.0,430.0 C531.2,430.7 541.7,428.3 545.0,428.0" stroke-width="6" opacity="0.5"/>
  <path d="M458.0,425.0 C458.7,428.3 461.3,441.7 462.0,445.0" stroke-width="6" opacity="0.5"/>
 </g>
</g>
<path d="M400.0,417.0 C400.7,420.6 392.7,426.3 389.5,424.5 C388.5,427.8 376.0,432.7 373.0,431.0 C371.2,433.1 359.0,433.9 357.0,432.0 C354.2,433.9 342.1,429.7 341.0,426.5 C337.8,427.0 329.4,418.2 330.0,415.0 C326.2,414.3 321.6,402.1 324.0,399.0 C321.6,396.7 323.1,384.6 326.0,383.0 C320.2,379.7 317.4,354.6 322.2,350.0 C316.3,344.9 320.7,320.2 328.0,317.5 C321.7,313.4 323.7,291.4 330.7,288.6 C323.9,285.1 323.0,261.0 329.5,257.0 C323.9,254.6 316.7,231.1 320.0,226.0 C319.1,217.7 321.3,211.5 324.0,207.0 C326.7,202.5 332.0,200.5 336.0,199.0 C340.0,197.5 344.3,197.9 348.0,198.0 C349.4,196.9 357.3,198.0 358.3,199.5 C363.2,190.0 386.5,192.9 389.0,203.3 C392.9,199.0 407.0,203.8 407.5,209.6 C411.2,205.0 427.3,208.7 428.6,214.5 C432.8,211.4 457.9,213.0 461.7,216.6 C464.7,211.7 487.4,208.9 491.5,213.0 C492.2,206.1 512.2,197.0 517.8,201.0 C517.5,193.5 539.4,176.6 546.6,178.8 C544.3,173.5 555.2,154.6 561.0,154.0 C558.7,149.8 566.6,135.4 571.4,135.0 C568.3,133.7 565.4,121.6 567.5,119.0 C567.4,114.2 566.1,108.9 570.5,106.0 C572.2,99.6 590.1,96.1 594.0,101.5 C596.2,96.6 612.9,95.1 616.0,99.5 C621.3,100.4 623.4,104.1 626.0,107.0 C628.6,109.9 630.5,113.5 631.5,117.0 C632.5,120.5 632.5,124.8 632.0,128.0 C631.5,131.2 630.4,133.6 628.8,136.0 C627.2,138.4 624.3,137.2 622.3,142.2 C625.6,145.9 621.5,163.8 617.0,165.7 C620.1,170.2 615.0,193.4 610.3,196.2 C614.2,201.2 609.8,227.8 604.5,231.2 C609.4,236.1 606.5,263.5 600.8,267.3 C606.8,271.3 606.8,297.0 600.8,301.0 C608.5,305.4 610.8,336.7 603.8,342.2 C608.9,346.8 607.8,374.2 602.3,378.3 C606.8,382.1 605.6,405.0 600.8,408.4 C604.3,413.4 598.0,437.4 592.5,440.0 C594.3,446.4 579.2,466.1 572.6,466.0 C572.5,471.6 555.7,482.6 550.5,480.4 C545.9,487.5 513.2,490.4 507.5,484.2 C506.7,486.4 498.7,488.3 497.0,486.6 C497.1,488.3 493.8,498.1 492.7,499.4 C492.9,501.7 487.1,512.0 485.0,513.0 C485.3,514.6 483.0,523.7 482.0,525.0 C481.9,526.9 481.6,539.1 481.5,541.0 C479.3,543.1 464.9,543.5 462.6,541.6 C462.4,538.7 461.2,520.4 461.0,517.5 C458.4,515.2 449.2,496.9 449.0,493.4 C446.5,490.3 443.1,468.7 444.5,465.0 C443.1,460.5 446.5,433.9 449.0,430.0 C450.3,425.3 469.8,408.2 474.6,407.5 C476.0,405.9 486.2,404.2 488.0,405.3 C493.0,401.7 510.1,409.7 510.5,415.8 C515.2,416.0 523.2,430.1 521.0,434.3 C520.2,430.1 531.2,417.9 535.4,418.2 C533.1,416.2 535.1,406.9 538.0,406.0 C533.0,400.5 540.6,381.8 548.0,381.3 C543.7,378.9 541.4,360.6 545.0,357.2 C538.7,351.0 544.5,320.1 552.6,316.6 C544.6,310.9 544.6,274.6 552.6,268.9 C544.5,265.1 544.1,240.1 552.0,236.0 C550.5,235.8 549.0,231.5 550.0,230.4 C545.9,236.3 510.4,255.0 503.2,255.0 C499.7,262.0 474.0,264.3 469.4,258.0 C464.2,270.0 431.7,269.6 426.7,257.6 C420.0,267.0 392.5,260.9 390.5,249.5 C389.0,252.3 377.6,253.5 375.5,251.0 C375.7,252.9 370.4,259.2 368.5,259.4 C374.9,261.3 377.9,279.6 372.4,283.5 C376.7,285.2 378.7,299.6 375.0,302.4 C378.4,304.1 378.9,316.1 375.7,318.1 C380.7,319.5 383.7,334.4 379.6,337.7 C381.5,344.0 383.4,351.3 386.8,356.0 C390.2,360.7 396.7,361.3 400.0,366.0 C403.3,370.7 405.6,377.7 406.5,384.0 C407.4,390.3 406.6,398.5 405.5,404.0 C404.4,409.5 402.7,413.6 400.0,417.0Z" fill="none" stroke="#352c2c" stroke-width="1.7" stroke-linejoin="round"/>
<g fill="none" stroke="#3a3030" stroke-width="0.9" stroke-linecap="round"><path d="M352.4,236.2 C353.3,236.9 355.7,239.4 358.0,240.2 C360.3,241.0 364.1,241.0 366.0,241.0 C367.9,241.0 368.2,239.4 369.3,240.2 C370.4,241.0 371.5,244.2 372.5,245.8 C373.5,247.4 375.0,249.3 375.5,250.0"/><path d="M354.8,220.1 C356.0,219.3 359.5,216.4 362.0,215.3 C364.5,214.2 367.3,213.7 370.0,213.7 C372.7,213.7 376.1,214.0 378.1,215.3 C380.1,216.6 381.4,220.6 382.1,221.7"/><path d="M372.5,233.0 C373.2,231.9 374.6,228.1 376.5,226.6 C378.4,225.1 381.1,224.4 383.7,224.1 C386.2,223.8 389.4,224.1 391.8,224.9 C394.2,225.7 397.1,228.3 398.2,229.0"/><path d="M393.4,242.6 C393.9,241.3 395.1,236.7 396.6,234.6 C398.1,232.5 399.9,230.9 402.2,229.8 C404.5,228.7 407.5,228.3 410.2,228.2 C412.9,228.1 415.5,228.3 418.3,229.0 C421.1,229.7 424.8,231.0 427.1,232.2 C429.4,233.4 431.2,235.4 432.0,236.0"/><path d="M366.0,206.5 C366.7,206.8 368.6,207.3 370.0,208.0 C371.4,208.7 373.2,209.8 374.1,210.5 C375.1,211.2 374.6,211.2 375.7,212.1 C376.8,213.0 378.9,215.3 380.5,216.1 C382.1,216.9 383.7,217.0 385.3,216.9 C386.9,216.8 389.1,216.1 390.2,215.3 C391.3,214.5 391.5,212.6 391.8,212.1"/><path d="M391.8,212.1 C392.3,213.2 393.7,217.2 395.0,218.5 C396.3,219.8 398.2,220.0 399.8,220.1 C401.4,220.2 403.4,219.8 404.6,219.3 C405.8,218.8 406.6,217.4 407.0,217.0"/><path d="M388.6,220.1 C390.2,220.6 395.3,222.5 398.2,223.3 C401.1,224.1 403.5,224.5 406.2,224.9 C408.9,225.3 411.6,225.9 414.3,225.8 C417.0,225.7 419.7,224.8 422.3,224.1 C424.9,223.4 427.1,221.7 430.0,221.7 C432.9,221.7 436.2,222.9 440.0,224.0 C443.8,225.1 448.1,227.0 452.5,228.0 C456.9,229.0 462.4,229.7 466.5,230.0 C470.6,230.3 475.2,230.0 477.0,230.0"/><path d="M410.0,214.0 C411.0,214.8 413.7,217.8 416.0,219.0 C418.3,220.2 422.7,220.7 424.0,221.0"/><path d="M432.0,217.0 C433.3,217.8 437.0,220.8 440.0,222.0 C443.0,223.2 448.3,223.7 450.0,224.0"/><path d="M428.6,246.0 C429.8,244.0 432.6,236.5 435.6,234.0 C438.6,231.5 442.4,231.1 446.8,231.0 C451.2,230.9 459.7,233.1 462.3,233.5"/><path d="M466.5,246.0 C467.2,244.0 468.9,236.3 470.7,234.0 C472.4,231.7 475.9,232.3 477.0,232.0"/><path d="M345.0,229.0 C345.3,230.8 346.8,236.5 347.0,240.0 C347.2,243.5 346.2,246.7 346.3,250.0 C346.4,253.3 346.7,256.6 347.5,259.6 C348.3,262.6 350.2,265.0 351.0,268.0 C351.8,271.0 352.3,274.3 352.3,277.7 C352.3,281.1 351.4,284.8 351.0,288.6 C350.6,292.4 350.0,296.6 350.0,300.6 C350.0,304.6 350.4,308.7 351.0,312.7 C351.6,316.7 353.2,321.1 353.6,324.7 C354.0,328.3 353.2,330.7 353.6,334.3 C354.0,337.9 355.4,342.4 356.0,346.4 C356.6,350.4 356.8,354.8 357.2,358.4 C357.6,362.0 358.2,366.4 358.4,368.0"/><path d="M351.0,242.0 C351.0,243.3 351.0,247.1 351.0,250.0 C351.0,252.9 350.4,256.0 351.0,259.6 C351.6,263.2 354.4,267.7 354.8,271.7 C355.2,275.7 353.9,279.6 353.6,283.7 C353.3,287.8 353.0,291.6 353.0,296.0 C353.0,300.4 353.1,305.7 353.6,310.0 C354.1,314.3 355.6,318.0 356.0,322.0 C356.4,326.0 355.7,330.3 356.0,334.0 C356.3,337.7 357.7,342.3 358.0,344.0"/><path d="M354.1,281.6 C354.8,282.0 356.2,283.7 358.0,284.2 C359.8,284.7 362.8,284.6 365.0,284.5 C367.2,284.4 370.0,283.7 371.0,283.5"/><path d="M352.8,301.1 C353.7,301.5 355.8,303.4 358.0,303.7 C360.2,304.0 363.5,303.3 366.0,303.0 C368.5,302.7 371.8,302.2 373.0,302.0"/><path d="M351.5,319.4 C352.6,319.6 355.6,320.6 358.0,320.7 C360.4,320.8 363.4,320.4 366.0,320.0 C368.6,319.6 372.4,318.4 373.7,318.1"/><path d="M355.4,342.9 C356.1,342.0 357.6,338.8 359.4,337.7 C361.2,336.6 363.2,336.6 366.0,336.5 C368.8,336.4 374.3,336.9 376.0,337.0"/><path d="M359.4,362.5 C360.3,362.7 362.0,364.2 364.6,363.8 C367.2,363.4 373.3,360.5 375.0,359.9"/><path d="M345.0,288.6 C345.8,289.8 349.2,292.6 350.0,295.8 C350.8,299.0 350.6,304.4 350.0,307.8 C349.4,311.2 346.9,314.9 346.3,316.3"/><path d="M340.3,317.5 C341.5,318.3 345.5,319.9 347.5,322.3 C349.5,324.7 351.1,328.8 352.3,332.0 C353.5,335.2 354.4,340.0 354.8,341.6"/><path d="M340.3,344.0 C341.9,344.4 347.4,345.0 350.0,346.4 C352.6,347.8 354.4,350.0 356.0,352.4 C357.6,354.8 359.0,359.4 359.6,360.8"/><path d="M336.0,262.0 C337.2,262.7 341.0,264.0 343.0,266.0 C345.0,268.0 347.2,272.7 348.0,274.0"/><path d="M482.6,225.0 C484.7,223.9 490.4,220.4 495.3,218.6 C500.2,216.8 507.3,215.8 512.2,214.4 C517.1,213.0 520.2,211.8 524.8,210.0 C529.4,208.2 535.7,206.6 539.6,203.8 C543.5,201.0 544.9,196.8 548.0,193.3 C551.1,189.8 555.3,185.9 558.5,182.7 C561.7,179.5 564.2,177.5 567.0,174.3 C569.8,171.2 572.9,167.3 575.4,163.8 C577.9,160.3 580.3,156.2 581.7,153.2 C583.1,150.2 583.6,147.2 584.0,146.0"/><path d="M482.6,228.0 C484.8,228.3 491.8,228.4 496.0,230.0 C500.2,231.6 506.0,236.3 508.0,237.6"/><path d="M508.0,237.6 C508.7,235.5 509.4,228.2 512.2,225.0 C515.0,221.8 520.6,220.0 524.8,218.6 C529.0,217.2 535.4,216.8 537.5,216.5"/><path d="M540.0,196.2 C541.7,195.4 546.7,192.4 550.0,191.2 C553.3,190.0 557.1,189.4 560.0,189.2 C562.9,189.0 565.9,190.0 567.1,190.2"/><path d="M550.0,181.2 C551.7,180.7 557.1,179.4 560.0,178.2 C562.9,177.0 565.9,174.8 567.1,174.1"/><path d="M567.1,173.1 C567.3,175.1 567.6,182.0 568.1,185.2 C568.6,188.4 569.8,191.0 570.1,192.2"/><path d="M566.1,170.1 C567.3,169.3 570.8,166.8 573.1,165.1 C575.5,163.4 579.0,160.9 580.2,160.1"/><path d="M568.1,156.1 C569.3,155.8 572.8,154.6 575.1,154.1 C577.5,153.6 581.0,153.3 582.2,153.1"/><path d="M583.2,140.0 C583.4,141.7 583.4,146.7 584.2,150.0 C585.0,153.3 586.2,157.6 588.2,160.1 C590.2,162.6 594.9,164.3 596.2,165.1"/><path d="M593.2,102.0 C592.7,103.8 591.0,110.1 590.2,113.1 C589.4,116.1 588.4,117.2 588.2,120.1 C588.0,122.9 588.2,127.5 589.2,130.2 C590.2,132.9 593.4,135.2 594.2,136.2"/><path d="M579.2,116.1 C580.4,115.9 584.4,115.8 586.2,115.1 C588.0,114.4 589.5,112.6 590.2,112.1"/><path d="M590.2,118.1 C591.2,117.6 593.5,115.3 596.2,115.1 C598.9,114.9 604.6,116.8 606.3,117.1"/><path d="M578.2,135.2 C579.0,134.9 581.7,134.2 583.2,133.2 C584.7,132.2 586.5,129.9 587.2,129.2"/><path d="M583.2,137.2 C583.9,138.5 587.0,142.2 587.2,145.2 C587.4,148.2 584.7,153.6 584.2,155.3"/><path d="M618.0,107.0 C618.5,108.0 620.3,110.5 621.0,113.0 C621.7,115.5 621.8,120.5 622.0,122.0"/><path d="M579.7,199.6 C578.7,202.8 575.2,212.7 573.7,219.0 C572.2,225.3 571.7,231.1 570.7,237.2 C569.7,243.2 568.6,250.8 567.6,255.3 C566.6,259.8 564.9,260.2 564.6,264.3 C564.3,268.4 565.2,274.1 566.0,280.0 C566.8,285.9 569.7,293.4 569.2,300.0 C568.7,306.6 563.6,314.6 563.1,319.6 C562.6,324.6 565.6,326.2 566.1,330.0 C566.6,333.8 567.1,338.2 566.1,342.2 C565.1,346.2 560.4,351.2 560.1,354.2 C559.9,357.2 564.1,357.7 564.6,360.2 C565.1,362.7 564.1,366.3 563.1,369.3 C562.1,372.3 559.9,374.3 558.6,378.3 C557.4,382.3 556.4,388.9 555.6,393.4 C554.9,397.9 555.1,401.9 554.1,405.4 C553.1,408.9 550.4,413.0 549.6,414.5"/><path d="M587.2,196.6 C586.2,200.1 583.0,211.6 581.2,217.6 C579.5,223.6 577.7,226.4 576.7,232.7 C575.7,239.0 575.5,249.8 575.2,255.3 C575.0,260.8 575.7,262.3 575.2,265.8 C574.7,269.3 573.0,271.6 572.2,276.4 C571.5,281.2 570.7,290.6 570.7,294.5 C570.7,298.4 571.7,295.3 572.2,300.0 C572.7,304.7 574.5,316.3 573.7,322.6 C572.9,328.9 568.1,331.4 567.6,337.7 C567.1,344.0 571.0,354.4 570.7,360.2 C570.5,366.0 567.4,368.3 566.1,372.3 C564.8,376.3 563.6,379.3 563.1,384.3 C562.6,389.3 564.1,397.9 563.1,402.4 C562.1,406.9 558.1,409.9 557.1,411.4"/><path d="M592.0,194.0 C593.3,194.0 598.0,193.6 600.0,194.0 C602.0,194.4 603.6,195.8 604.3,196.2"/><path d="M576.7,235.7 C577.5,233.9 579.0,227.4 581.2,225.2 C583.5,222.9 587.7,222.4 590.2,222.2 C592.7,222.0 595.0,223.7 596.0,224.0"/><path d="M575.2,264.3 C576.0,263.6 577.2,260.6 579.7,259.8 C582.2,259.1 587.5,259.4 590.2,259.8 C592.9,260.2 595.0,261.6 596.0,262.0"/><path d="M573.7,297.5 C574.7,296.5 576.7,291.9 579.7,291.4 C582.7,290.9 589.7,294.0 591.7,294.5"/><path d="M570.7,328.6 C572.0,327.9 574.7,324.1 578.2,324.1 C581.7,324.1 589.5,327.9 591.7,328.6"/><path d="M569.2,370.8 C570.2,370.3 572.0,367.6 575.2,367.8 C578.5,368.1 586.5,371.6 588.7,372.3"/><path d="M560.1,405.4 C561.6,405.1 566.4,403.6 569.2,403.9 C572.0,404.1 575.5,406.4 576.7,406.9"/><path d="M556.0,238.0 C556.8,239.0 559.5,241.3 561.0,244.0 C562.5,246.7 564.3,252.3 565.0,254.0"/><path d="M556.0,276.0 C557.0,277.0 560.2,279.3 562.0,282.0 C563.8,284.7 566.2,290.3 567.0,292.0"/><path d="M553.0,322.0 C554.0,323.0 557.3,325.3 559.0,328.0 C560.7,330.7 562.3,336.3 563.0,338.0"/><path d="M549.0,362.0 C550.0,362.7 553.2,364.0 555.0,366.0 C556.8,368.0 559.2,372.7 560.0,374.0"/><path d="M546.0,386.0 C546.8,386.7 549.5,388.0 551.0,390.0 C552.5,392.0 554.3,396.7 555.0,398.0"/><path d="M483.7,404.5 C484.4,406.8 486.2,413.8 488.2,418.0 C490.2,422.2 492.7,426.5 495.7,430.0 C498.7,433.5 502.0,437.2 506.3,439.2 C510.6,441.2 515.7,441.4 521.3,442.2 C526.9,442.9 534.2,444.1 540.0,443.7 C545.8,443.3 551.3,441.9 556.0,440.0 C560.7,438.1 566.0,433.3 568.0,432.0"/><path d="M491.2,406.0 C492.2,408.0 494.9,414.2 497.2,418.0 C499.5,421.8 501.8,425.6 504.8,428.6 C507.8,431.6 511.0,434.6 515.3,436.1 C519.6,437.6 525.4,437.7 530.4,437.7 C535.4,437.7 542.6,436.3 545.0,436.0"/><path d="M483.7,449.7 C484.9,448.9 487.9,446.2 491.2,445.2 C494.5,444.2 499.8,443.7 503.3,443.7 C506.8,443.7 510.8,444.9 512.3,445.2"/><path d="M501.7,472.3 C502.0,470.3 501.8,463.7 503.3,460.2 C504.8,456.7 507.8,453.2 510.8,451.2 C513.8,449.2 518.3,448.4 521.3,448.2 C524.3,447.9 527.6,449.4 528.9,449.7"/><path d="M521.3,472.3 C521.8,470.3 523.3,463.7 524.3,460.2 C525.3,456.7 526.9,452.7 527.4,451.2"/><path d="M540.0,470.0 C540.3,468.0 540.7,461.5 542.0,458.0 C543.3,454.5 545.0,451.3 548.0,449.0 C551.0,446.7 558.0,444.8 560.0,444.0"/><path d="M552.5,424.6 C554.5,423.9 559.8,420.6 564.5,420.6 C569.2,420.6 577.9,423.9 580.6,424.6"/><path d="M458.0,421.0 C458.3,423.0 458.8,429.2 460.0,433.0 C461.2,436.8 462.6,440.7 465.0,443.7 C467.4,446.7 473.0,449.8 474.6,451.0"/><path d="M473.0,451.0 C472.9,452.5 471.9,456.6 472.4,460.2 C472.9,463.8 474.2,469.3 476.1,472.3 C478.0,475.3 482.7,477.1 484.0,478.0"/></g>
<g fill="none" stroke="#262020" stroke-width="1.5" stroke-linecap="round"><path d="M369.6,365.7 C371.7,366.8 378.7,368.5 382.3,372.0 C385.9,375.5 388.9,381.7 391.3,386.5 C393.7,391.3 395.7,395.9 396.8,401.0 C397.9,406.1 397.6,414.3 397.7,417.0"/><path d="M348.9,369.3 C352.3,369.8 364.0,369.7 369.6,372.0 C375.2,374.3 379.3,378.8 382.3,383.0 C385.3,387.2 386.6,390.4 387.7,397.0 C388.8,403.6 388.5,418.4 388.6,422.7"/></g>
<g fill="none" stroke="#352c2c" stroke-width="1.3" stroke-linecap="round"><path d="M550.0,230.4 C551.7,229.2 556.6,226.3 560.0,223.3 C563.4,220.3 567.2,216.2 570.1,212.3 C573.0,208.5 574.6,203.0 577.1,200.2 C579.6,197.3 582.9,196.4 585.2,195.2 C587.6,194.0 589.4,194.9 591.2,193.2 C593.0,191.5 595.0,187.7 596.2,185.2 C597.4,182.7 597.9,180.7 598.2,178.2 C598.5,175.7 597.5,172.3 598.2,170.1 C598.9,167.9 600.5,167.1 602.2,165.1 C603.9,163.1 606.9,160.6 608.3,158.1 C609.6,155.6 609.7,152.2 610.3,150.0 C610.9,147.8 611.0,147.3 612.0,145.2 C613.0,143.1 615.9,139.9 616.3,137.2 C616.7,134.5 613.6,131.5 614.3,129.2 C615.0,126.9 619.1,125.5 620.3,123.2 C621.5,120.9 621.6,117.8 621.3,115.1 C621.0,112.4 618.8,108.4 618.3,107.1"/><path d="M335.6,208.6 C335.8,210.2 335.9,215.1 337.0,218.0 C338.1,220.9 340.0,223.8 342.0,226.0 C344.0,228.2 347.3,229.3 349.0,231.0 C350.7,232.7 351.8,235.3 352.4,236.2"/></g>

<rect x="475" y="0" width="7" height="556" fill="#fff"/>
<rect x="0" y="78.5" width="996" height="1.7" fill="#333"/>
<rect x="0" y="84" width="996" height="1.7" fill="#333"/>
<rect x="0" y="559.8" width="996" height="2.2" fill="#333"/>
<line x1="478.9" y1="2.1" x2="478.9" y2="560" stroke="#222" stroke-width="2.1" stroke-dasharray="5 5.3"/>
<line x1="181.5" y1="259.05" x2="91.9" y2="395.7" stroke="#a8461c" stroke-width="3.1"/>
<line x1="181.5" y1="259.05" x2="249" y2="447.9" stroke="#a8461c" stroke-width="3.1"/>
<line x1="91.9" y1="395.7" x2="249" y2="447.9" stroke="#a8461c" stroke-width="3.1"/>
<circle cx="181.5" cy="259.05" r="17.1" fill="#fff" stroke="#6c6c6c" stroke-width="3.3"/>
<circle cx="91.9" cy="395.7" r="17.1" fill="#fff" stroke="#6c6c6c" stroke-width="3.3"/>
<circle cx="249" cy="447.9" r="17.1" fill="#fff" stroke="#6c6c6c" stroke-width="3.3"/>
<line x1="772" y1="156.3" x2="692.9" y2="250" stroke="#a8461c" stroke-width="3.1"/>
<line x1="772" y1="156.3" x2="863.5" y2="233.8" stroke="#a8461c" stroke-width="3.1"/>
<line x1="772" y1="156.3" x2="859.4" y2="337.1" stroke="#a8461c" stroke-width="3.1"/>
<line x1="692.9" y1="250" x2="863.5" y2="233.8" stroke="#a8461c" stroke-width="3.1"/>
<line x1="692.9" y1="250" x2="859.4" y2="337.1" stroke="#a8461c" stroke-width="3.1"/>
<line x1="863.5" y1="233.8" x2="859.4" y2="337.1" stroke="#a8461c" stroke-width="3.1"/>
<line x1="859.4" y1="337.1" x2="909.6" y2="404.6" stroke="#a8461c" stroke-width="3.1"/>
<line x1="859.4" y1="337.1" x2="673.9" y2="481" stroke="#a8461c" stroke-width="3.1"/>
<line x1="909.6" y1="404.6" x2="673.9" y2="481" stroke="#a8461c" stroke-width="3.1"/>
<circle cx="772" cy="156.3" r="17.1" fill="#fff" stroke="#6c6c6c" stroke-width="3.3"/>
<circle cx="692.9" cy="250" r="17.1" fill="#fff" stroke="#6c6c6c" stroke-width="3.3"/>
<circle cx="863.5" cy="233.8" r="17.1" fill="#fff" stroke="#6c6c6c" stroke-width="3.3"/>
<circle cx="859.4" cy="337.1" r="17.1" fill="#fff" stroke="#6c6c6c" stroke-width="3.3"/>
<circle cx="909.6" cy="404.6" r="17.1" fill="#a5a5a5" stroke="#6c6c6c" stroke-width="3.3"/>
<circle cx="673.9" cy="481" r="17.1" fill="#545454" stroke="#242424" stroke-width="3.5"/>
<text x="81.22" y="224.8" font-size="34.76" font-weight="normal" font-style="normal" fill="#383838" text-anchor="start" >Follicular B</text>
<text x="40.46" y="465.3" font-size="34.76" font-weight="normal" font-style="normal" fill="#383838" text-anchor="start" >CD8+ T</text>
<text x="219.81" y="498.1" font-size="34.72" font-weight="normal" font-style="normal" fill="#383838" text-anchor="start" >Tregs</text>
<text x="659.4" y="124.8" font-size="34.95" font-weight="normal" font-style="normal" fill="#383838" text-anchor="start" >Follicular B</text>
<text x="844.76" y="170.7" font-size="34.88" font-weight="normal" font-style="normal" fill="#383838" text-anchor="start" >CD8+</text>
<text x="845.4" y="205.3" font-size="34.5" font-weight="normal" font-style="normal" fill="#383838" text-anchor="start" >IL17+ T</text>
<text x="620.51" y="221.9" font-size="34.72" font-weight="normal" font-style="normal" fill="#383838" text-anchor="start" >Tregs</text>
<text x="616.8" y="332.7" font-size="34.45" font-weight="normal" font-style="normal" fill="#383838" text-anchor="start" >Inflammatory</text>
<text x="649.57" y="365" font-size="34.78" font-weight="normal" font-style="normal" fill="#383838" text-anchor="start" >monocytes</text>
<text x="895.61" y="451.1" font-size="34.88" font-weight="normal" font-style="normal" fill="#383838" text-anchor="start" >M-like</text>
<text x="896.02" y="485.6" font-size="34.58" font-weight="normal" font-style="normal" fill="#383838" text-anchor="start" >cells</text>
<text x="694.91" y="501.6" font-size="34.36" font-weight="normal" font-style="normal" fill="#383838" text-anchor="start" >Inflammatory</text>
<text x="697.06" y="535.8" font-size="34.35" font-weight="normal" font-style="normal" fill="#383838" text-anchor="start" >fibroblasts</text>
<circle cx="106.8" cy="666.4" r="8" fill="#8a8a8a"/>
<circle cx="127.8" cy="666.4" r="8" fill="#bdbdbd"/>
<circle cx="148.4" cy="666.4" r="8" fill="#2a2a2a"/>
<circle cx="169.2" cy="666.4" r="8" fill="#bdbdbd"/>
<circle cx="190" cy="666.4" r="8" fill="#bdbdbd"/>
<circle cx="210.9" cy="666.4" r="8" fill="#bdbdbd"/>
<circle cx="231.6" cy="666.4" r="8" fill="#dedede"/>
<circle cx="252.4" cy="666.4" r="8" fill="#bdbdbd"/>
<circle cx="273.1" cy="666.4" r="8" fill="#bdbdbd"/>
<circle cx="106.8" cy="688.1" r="8" fill="#bdbdbd"/>
<circle cx="127.8" cy="688.1" r="8" fill="#bdbdbd"/>
<circle cx="148.4" cy="688.1" r="8" fill="#bdbdbd"/>
<circle cx="169.2" cy="688.1" r="8" fill="#bdbdbd"/>
<circle cx="190" cy="688.1" r="8" fill="#bdbdbd"/>
<circle cx="210.9" cy="688.1" r="8" fill="#bdbdbd"/>
<circle cx="231.6" cy="688.1" r="8" fill="#bdbdbd"/>
<circle cx="252.4" cy="688.1" r="8" fill="#2a2a2a"/>
<circle cx="273.1" cy="688.1" r="8" fill="#bdbdbd"/>
<circle cx="106.8" cy="709.8" r="8" fill="#8a8a8a"/>
<circle cx="127.8" cy="709.8" r="8" fill="#bdbdbd"/>
<circle cx="148.4" cy="709.8" r="8" fill="#bdbdbd"/>
<circle cx="169.2" cy="709.8" r="8" fill="#bdbdbd"/>
<circle cx="190" cy="709.8" r="8" fill="#dedede"/>
<circle cx="210.9" cy="709.8" r="8" fill="#bdbdbd"/>
<circle cx="231.6" cy="709.8" r="8" fill="#8a8a8a"/>
<circle cx="252.4" cy="709.8" r="8" fill="#bdbdbd"/>
<circle cx="273.1" cy="709.8" r="8" fill="#bdbdbd"/>
<circle cx="106.8" cy="731.6" r="8" fill="#dedede"/>
<circle cx="127.8" cy="731.6" r="8" fill="#bdbdbd"/>
<circle cx="148.4" cy="731.6" r="8" fill="#6a6a6a"/>
<circle cx="169.2" cy="731.6" r="8" fill="#bdbdbd"/>
<circle cx="190" cy="731.6" r="8" fill="#bdbdbd"/>
<circle cx="210.9" cy="731.6" r="8" fill="#bdbdbd"/>
<circle cx="231.6" cy="731.6" r="8" fill="#8a8a8a"/>
<circle cx="252.4" cy="731.6" r="8" fill="#bdbdbd"/>
<circle cx="273.1" cy="731.6" r="8" fill="#bdbdbd"/>
<circle cx="106.8" cy="753.3" r="8" fill="#bdbdbd"/>
<circle cx="127.8" cy="753.3" r="8" fill="#bdbdbd"/>
<circle cx="148.4" cy="753.3" r="8" fill="#bdbdbd"/>
<circle cx="169.2" cy="753.3" r="8" fill="#bdbdbd"/>
<circle cx="190" cy="753.3" r="8" fill="#bdbdbd"/>
<circle cx="210.9" cy="753.3" r="8" fill="#bdbdbd"/>
<circle cx="231.6" cy="753.3" r="8" fill="#bdbdbd"/>
<circle cx="252.4" cy="753.3" r="8" fill="#bdbdbd"/>
<circle cx="273.1" cy="753.3" r="8" fill="#bdbdbd"/>
<circle cx="106.8" cy="775.3" r="8" fill="#dedede"/>
<circle cx="127.8" cy="775.3" r="8" fill="#484848"/>
<circle cx="148.4" cy="775.3" r="8" fill="#bdbdbd"/>
<circle cx="169.2" cy="775.3" r="8" fill="#bdbdbd"/>
<circle cx="190" cy="775.3" r="8" fill="#bdbdbd"/>
<circle cx="210.9" cy="775.3" r="8" fill="#141414"/>
<circle cx="231.6" cy="775.3" r="8" fill="#8a8a8a"/>
<circle cx="252.4" cy="775.3" r="8" fill="#bdbdbd"/>
<circle cx="273.1" cy="775.3" r="8" fill="#bdbdbd"/>
<circle cx="106.8" cy="797.2" r="8" fill="#bdbdbd"/>
<circle cx="127.8" cy="797.2" r="8" fill="#bdbdbd"/>
<circle cx="148.4" cy="797.2" r="8" fill="#bdbdbd"/>
<circle cx="169.2" cy="797.2" r="8" fill="#bdbdbd"/>
<circle cx="190" cy="797.2" r="8" fill="#bdbdbd"/>
<circle cx="210.9" cy="797.2" r="8" fill="#bdbdbd"/>
<circle cx="231.6" cy="797.2" r="8" fill="#bdbdbd"/>
<circle cx="252.4" cy="797.2" r="8" fill="#bdbdbd"/>
<circle cx="273.1" cy="797.2" r="8" fill="#bdbdbd"/>
<circle cx="106.8" cy="819.1" r="8" fill="#bdbdbd"/>
<circle cx="127.8" cy="819.1" r="8" fill="#bdbdbd"/>
<circle cx="148.4" cy="819.1" r="8" fill="#6a6a6a"/>
<circle cx="169.2" cy="819.1" r="8" fill="#bdbdbd"/>
<circle cx="190" cy="819.1" r="8" fill="#bdbdbd"/>
<circle cx="210.9" cy="819.1" r="8" fill="#dedede"/>
<circle cx="231.6" cy="819.1" r="8" fill="#bdbdbd"/>
<circle cx="252.4" cy="819.1" r="8" fill="#bdbdbd"/>
<circle cx="273.1" cy="819.1" r="8" fill="#6a6a6a"/>
<circle cx="106.8" cy="841" r="8" fill="#a0a0a0"/>
<circle cx="127.8" cy="841" r="8" fill="#bdbdbd"/>
<circle cx="148.4" cy="841" r="8" fill="#bdbdbd"/>
<circle cx="169.2" cy="841" r="8" fill="#bdbdbd"/>
<circle cx="190" cy="841" r="8" fill="#141414"/>
<circle cx="210.9" cy="841" r="8" fill="#bdbdbd"/>
<circle cx="231.6" cy="841" r="8" fill="#bdbdbd"/>
<circle cx="252.4" cy="841" r="8" fill="#dedede"/>
<circle cx="273.1" cy="841" r="8" fill="#bdbdbd"/>
<circle cx="106.8" cy="863" r="8" fill="#bdbdbd"/>
<circle cx="127.8" cy="863" r="8" fill="#bdbdbd"/>
<circle cx="148.4" cy="863" r="8" fill="#dedede"/>
<circle cx="169.2" cy="863" r="8" fill="#bdbdbd"/>
<circle cx="190" cy="863" r="8" fill="#bdbdbd"/>
<circle cx="210.9" cy="863" r="8" fill="#2a2a2a"/>
<circle cx="231.6" cy="863" r="8" fill="#bdbdbd"/>
<circle cx="252.4" cy="863" r="8" fill="#bdbdbd"/>
<circle cx="273.1" cy="863" r="8" fill="#bdbdbd"/>
<circle cx="106.8" cy="884.9" r="8" fill="#bdbdbd"/>
<circle cx="127.8" cy="884.9" r="8" fill="#484848"/>
<circle cx="148.4" cy="884.9" r="8" fill="#bdbdbd"/>
<circle cx="169.2" cy="884.9" r="8" fill="#a0a0a0"/>
<circle cx="190" cy="884.9" r="8" fill="#6a6a6a"/>
<circle cx="210.9" cy="884.9" r="8" fill="#bdbdbd"/>
<circle cx="231.6" cy="884.9" r="8" fill="#bdbdbd"/>
<circle cx="252.4" cy="884.9" r="8" fill="#bdbdbd"/>
<circle cx="273.1" cy="884.9" r="8" fill="#bdbdbd"/>
<circle cx="106.8" cy="906.6" r="8" fill="#bdbdbd"/>
<circle cx="127.8" cy="906.6" r="8" fill="#bdbdbd"/>
<circle cx="148.4" cy="906.6" r="8" fill="#bdbdbd"/>
<circle cx="169.2" cy="906.6" r="8" fill="#bdbdbd"/>
<circle cx="190" cy="906.6" r="8" fill="#bdbdbd"/>
<circle cx="210.9" cy="906.6" r="8" fill="#bdbdbd"/>
<circle cx="231.6" cy="906.6" r="8" fill="#bdbdbd"/>
<circle cx="252.4" cy="906.6" r="8" fill="#bdbdbd"/>
<circle cx="273.1" cy="906.6" r="8" fill="#6a6a6a"/>
<rect x="68.5" y="731.5" width="165.5" height="28" fill="#fff" fill-opacity="0.72"/>
<text x="70.46" y="753.1" font-size="27.71" font-weight="bold" font-style="normal" fill="#a8461c" text-anchor="start" transform="translate(0 753.1) scale(1 1.03) translate(0 -753.1)">Enterocyte</text>
<path d="M72.8,763.7 L314.2,763.7 L314.2,750 L338.6,775.4 L314.2,801 L314.2,787.1 L72.8,787.1 Z" fill="none" stroke="#a8461c" stroke-width="3.3" stroke-linejoin="miter"/>
<text x="96.67" y="955.3" font-size="34.55" font-weight="normal" font-style="normal" fill="#383838" text-anchor="start" >Genes</text>
<text x="80.5" y="908.6" font-size="33.8" font-weight="normal" font-style="normal" fill="#383838" text-anchor="start" transform="rotate(-90 80.5 908.6)">Cells</text>
<line x1="503.4" y1="789.3" x2="415.5" y2="718" stroke="#3a3a3a" stroke-width="3.5"/>
<line x1="503.4" y1="789.3" x2="542" y2="694.5" stroke="#3a3a3a" stroke-width="3.5"/>
<line x1="503.4" y1="789.3" x2="411" y2="850.8" stroke="#3a3a3a" stroke-width="3.5"/>
<circle cx="463" cy="726" r="9.5" fill="#a6a6a6"/>
<circle cx="407.5" cy="756.7" r="9.5" fill="#a6a6a6"/>
<circle cx="543" cy="750.7" r="9.5" fill="#a6a6a6"/>
<circle cx="380.4" cy="809.7" r="9.5" fill="#a6a6a6"/>
<circle cx="466.5" cy="843.8" r="9.5" fill="#a6a6a6"/>
<circle cx="552.6" cy="863" r="9.5" fill="#a6a6a6"/>
<circle cx="503.4" cy="789.3" r="12.3" fill="#3a3a3a"/>
<circle cx="415.5" cy="718" r="12.3" fill="#3a3a3a"/>
<circle cx="542" cy="694.5" r="12.3" fill="#3a3a3a"/>
<circle cx="411" cy="850.8" r="12.3" fill="#3a3a3a"/>
<text x="356.32" y="695.5" font-size="27.62" font-weight="bold" font-style="italic" fill="#383838" text-anchor="start" transform="translate(0 695.5) scale(1 1.035) translate(0 -695.5)">GPR35</text>
<text x="553.82" y="683.9" font-size="27.55" font-weight="bold" font-style="italic" fill="#383838" text-anchor="start" transform="translate(0 683.9) scale(1 1.035) translate(0 -683.9)">GSDMB</text>
<text x="496.42" y="828.3" font-size="27.64" font-weight="bold" font-style="italic" fill="#383838" text-anchor="start" transform="translate(0 828.3) scale(1 1.035) translate(0 -828.3)">C1orf106</text>
<text x="355.52" y="894.8" font-size="27.53" font-weight="bold" font-style="italic" fill="#383838" text-anchor="start" transform="translate(0 894.8) scale(1 1.035) translate(0 -894.8)">SMAD3</text>
<text x="347.63" y="955.7" font-size="34.59" font-weight="normal" font-style="normal" fill="#383838" text-anchor="start" >Risk gene modules</text>
<path d="M651.2,763.8 L683.9,763.8 L683.9,750.6 L708.3,775.5 L683.9,800.6 L683.9,787.3 L651.2,787.3" fill="none" stroke="#a8461c" stroke-width="3.3" stroke-linejoin="miter"/>
<circle cx="759.3" cy="661.8" r="12.5" fill="#3a3a3a"/>
<circle cx="759.3" cy="717.8" r="12.5" fill="#3a3a3a"/>
<circle cx="759.3" cy="829.9" r="12.5" fill="#3a3a3a"/>
<circle cx="759.3" cy="885.9" r="12.5" fill="#3a3a3a"/>
<circle cx="759.6" cy="774" r="12" fill="#a8461c" stroke="#3a3a3a" stroke-width="3.2"/>
<polyline points="788.2,642.7 797.7,642.7 825.4,768.6 835.6,768.6" fill="none" stroke="#333" stroke-width="2"/>
<polyline points="835.6,776.9 825.4,776.9 797.7,902.5 788.2,902.5" fill="none" stroke="#333" stroke-width="2"/>
<path d="M842,659 C842,649 850,643.7 860.2,643.7 C870.4,643.7 878.3,649 878.3,659 L878.3,727.5 L867.6,739.7 L878.3,752 L878.3,887 C878.3,897 870.4,902.7 860.2,902.7 C850,902.7 842,897 842,887 L842,752 L852.5,739.7 L842,727.5 Z" fill="#dedede" stroke="#333" stroke-width="2.6" stroke-linejoin="miter"/>
<path d="M842,767.3 Q860.2,769.5 878.3,767.3 L878.3,781.3 Q860.2,783.5 842,781.3 Z" fill="#9b1d24" stroke="#333" stroke-width="1.6"/>
<text x="891.68" y="769.8" font-size="27.45" font-weight="bold" font-style="normal" fill="#383838" text-anchor="start" >Risk</text>
<text x="892.08" y="801" font-size="27.48" font-weight="bold" font-style="normal" fill="#383838" text-anchor="start" >locus</text>
<text x="780.22" y="940.3" font-size="34.7" font-weight="normal" font-style="normal" fill="#3b3a22" text-anchor="start" >Nominating</text>
<text x="780.57" y="969.9" font-size="34.65" font-weight="normal" font-style="normal" fill="#3b3a22" text-anchor="start" >risk genes</text>
</svg>
</body></html>
